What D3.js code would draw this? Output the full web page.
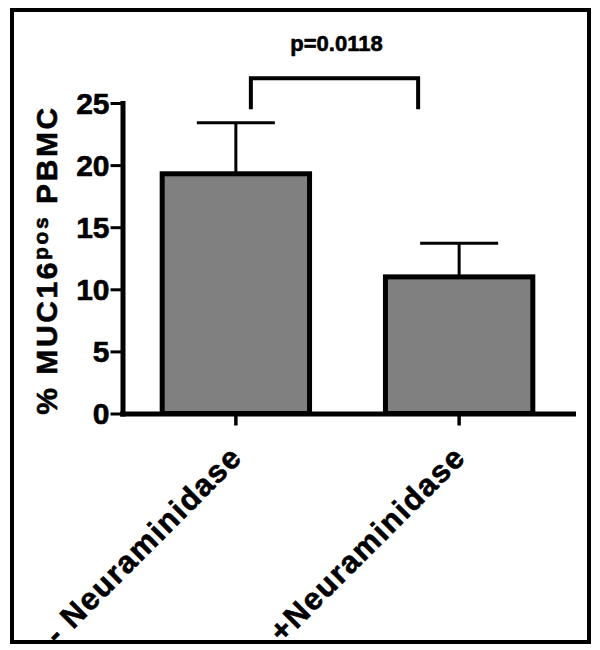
<!DOCTYPE html>
<html>
<head>
<meta charset="utf-8">
<script src="https://cdn.jsdelivr.net/npm/d3@7"></script>
<style>
	body { margin: 0; background: #fff; }
	text { font-family: 'Liberation Sans', Arial, sans-serif; font-weight: bold; fill: #000; stroke: #000; stroke-width: 0.6px; }
</style>
</head>
<body>
<div id="chart"></div>
<script>
// values
const categories = ['- Neuraminidase', '+Neuraminidase'];
const means = [19.3, 11.0];
const errorsUp = [4.1, 2.7];
const yTicks = [0, 5, 10, 15, 20, 25];
const pLabel = 'p=0.0118';

let width = 600,
	height = 650;

const svg = d3.select('#chart').append('svg').attr('width', width).attr('height', height);

// outer frame
svg.append('rect')
	.attr('x', 12)
	.attr('y', 10)
	.attr('width', 577)
	.attr('height', 632)
	.attr('fill', '#fff')
	.attr('stroke', '#000')
	.attr('stroke-width', 4);

const x = d3.scaleBand().domain(categories).range([122, 573]).paddingInner(0.34).paddingOuter(0.18);
const y = d3.scaleLinear().domain([0, 25]).range([413.5, 103]);

const data = categories.map((c, i) => ({ cat: c, mean: means[i], err: errorsUp[i] }));

// error bars (upper only)
const eb = svg.selectAll('.err').data(data).enter().append('g').attr('class', 'err');
eb.append('line')
	.attr('x1', (d) => x(d.cat) + x.bandwidth() / 2)
	.attr('x2', (d) => x(d.cat) + x.bandwidth() / 2)
	.attr('y1', (d) => y(d.mean))
	.attr('y2', (d) => y(d.mean + d.err))
	.attr('stroke', '#000')
	.attr('stroke-width', 3);
eb.append('line')
	.attr('x1', (d) => x(d.cat) + x.bandwidth() / 2 - 39)
	.attr('x2', (d) => x(d.cat) + x.bandwidth() / 2 + 39)
	.attr('y1', (d) => y(d.mean + d.err))
	.attr('y2', (d) => y(d.mean + d.err))
	.attr('stroke', '#000')
	.attr('stroke-width', 3);

// bars
svg.selectAll('.bar')
	.data(data)
	.enter()
	.append('rect')
	.attr('class', 'bar')
	.attr('x', (d) => x(d.cat))
	.attr('width', x.bandwidth())
	.attr('y', (d) => y(d.mean))
	.attr('height', (d) => y(0) - y(d.mean))
	.attr('fill', '#808080')
	.attr('stroke', '#000')
	.attr('stroke-width', 5);

// y axis
const yAxis = svg.append('g')
	.attr('transform', 'translate(122.5,0)')
	.call(d3.axisLeft(y).tickValues(yTicks).tickSize(12).tickSizeOuter(0).tickPadding(1));
yAxis.attr('font-size', null).attr('font-family', null);
yAxis.select('.domain').attr('stroke-width', 5).attr('stroke-linecap', 'square');
yAxis.selectAll('.tick line').attr('stroke-width', 3);
yAxis.selectAll('.tick text').style('font-size', '30px').attr('dy', '0.34em');

// x axis
const xAxis = svg.append('g')
	.attr('transform', 'translate(0,' + y(0) + ')')
	.call(d3.axisBottom(x).tickSize(12).tickSizeOuter(0));
xAxis.select('.domain').attr('stroke-width', 5).attr('stroke-linecap', 'square');
xAxis.selectAll('.tick line').attr('stroke-width', 3.5);
xAxis.selectAll('.tick text').remove();

// rotated category labels
svg.selectAll('.xlab')
	.data(categories)
	.enter()
	.append('text')
	.attr('class', 'xlab')
	.attr('transform', (d) => 'translate(' + (x(d) + x.bandwidth() / 2 + 8) + ',459) rotate(-45)')
	.attr('text-anchor', 'end')
	.style('font-size', '31px')
	.style('letter-spacing', '1.5px')
	.text((d) => d);

// y axis title with superscript
const yt = svg.append('text')
	.attr('transform', 'translate(57,260) rotate(-90)')
	.attr('text-anchor', 'middle')
	.style('font-size', '30px')
	.style('letter-spacing', '2.6px');
yt.append('tspan').text('% MUC16');
yt.append('tspan').attr('dy', -9).style('font-size', '21px').text('pos');
yt.append('tspan').attr('dy', 9).text(' PBMC');

// significance bracket
const bx1 = x(categories[0]) + x.bandwidth() / 2 + 15;
const bx2 = x(categories[1]) + x.bandwidth() / 2 - 41;
svg.append('path')
	.attr('d', 'M' + bx1 + ',' + y(24.5) + 'V' + y(27) + 'H' + bx2 + 'V' + y(24.5))
	.attr('fill', 'none')
	.attr('stroke', '#000')
	.attr('stroke-width', 4);
svg.append('text')
	.attr('x', (bx1 + bx2) / 2 + 2)
	.attr('y', 51)
	.attr('text-anchor', 'middle')
	.style('font-size', '22px')
	.text(pLabel);
</script>
</body>
</html>
